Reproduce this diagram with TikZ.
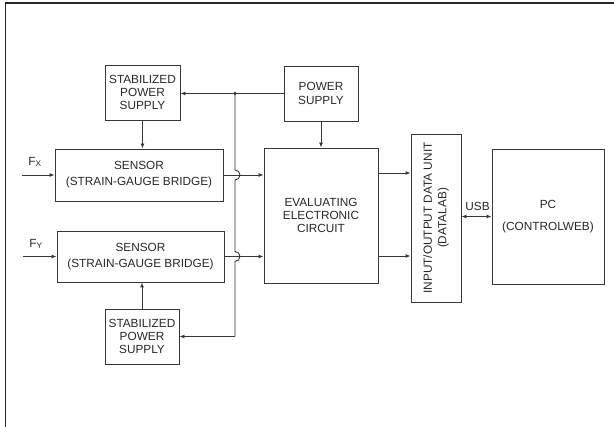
\documentclass[tikz,border=0pt]{standalone}
\usepackage{fontspec}
\setmainfont{Liberation Sans}
\usetikzlibrary{arrows.meta,calc}
\definecolor{ln}{RGB}{55,55,55}
\definecolor{tx}{RGB}{40,40,40}
\tikzset{
  box/.style={draw=ln, line width=0.9pt, rectangle, align=center, inner sep=0pt,
    text=tx, font=\fontsize{11.8}{13.4}\selectfont},
  arr/.style={draw=ln, line width=0.9pt, -{Latex[length=5pt,width=4pt]}},
  wire/.style={draw=ln, line width=0.9pt},
  lbl/.style={text=tx, inner sep=0pt, font=\fontsize{11.8}{13.4}\selectfont}
}
\begin{document}
\begin{tikzpicture}[x=1pt,y=-1pt]
\useasboundingbox (0,0) rectangle (614,427);
% frame
\draw[line width=1.8pt, black!85] (5.5,427) -- (5.5,2.8) -- (614,2.8);

% nodes
\node[box, minimum width=75pt, minimum height=55pt] (sps1) at (142.5,92.5) {STABILIZED\\POWER\\SUPPLY};
\node[box, minimum width=168pt, minimum height=52pt] (sx) at (139,175) {SENSOR\\[2.6pt](STRAIN-GAUGE BRIDGE)};
\node[box, minimum width=167pt, minimum height=51pt] (sy) at (140.5,256.5) {SENSOR\\[2.6pt](STRAIN-GAUGE BRIDGE)};
\node[box, minimum width=74pt, minimum height=55pt] (sps2) at (142,336.5) {STABILIZED\\POWER\\SUPPLY};
\node[box, minimum width=74pt, minimum height=55pt] (ps) at (321,93.5) {POWER\\SUPPLY};
\node[box, minimum width=114pt, minimum height=135pt] (ev) at (321,215.5) {EVALUATING\\ELECTRONIC\\CIRCUIT};
\node[box, minimum width=168pt, minimum height=50pt, rotate=90] (io) at (436,218) {INPUT/OUTPUT DATA UNIT\\[1pt](DATALAB)};
\node[box, minimum width=112pt, minimum height=135pt] (pc) at (548,216.5) {PC\\[8.5pt](CONTROLWEB)};

% labels
\node[lbl] (fx) at (35,162) {F\textsubscript{X}};
\node[lbl] (fy) at (36,244) {F\textsubscript{Y}};
\node[lbl] (usb) at (477.5,206) {USB};

% coordinates
\coordinate (fxs) at (22,175);
\coordinate (fys) at (23,256.5);
\coordinate (j1) at (235,93.5);
\coordinate (j2) at (235,336.5);
\coordinate (o1) at (378,173);
\coordinate (o2) at (378,256);

% input arrows
\draw[arr] (fxs) -- (sx.west);
\draw[arr] (fys) -- (sy.west);

% supply lines
\draw[arr] (ps.west) -- (sps1.east |- ps.west);
\fill[ln] (j1) circle (1.8pt);
\draw[wire] (j1) -- (235,170) arc[start angle=90, end angle=-90, radius=5pt]
  -- (235,251.5) arc[start angle=90, end angle=-90, radius=5pt] -- (j2);
\draw[arr] (j2) -- (sps2.east |- j2);
\draw[arr] (sps1.south) -- (sps1.south |- sx.north);
\draw[arr] (sps2.north) -- (sps2.north |- sy.south);
\draw[arr] (ps.south) -- (ev.north);

% sensor outputs
\draw[arr] (sx.east) -- (ev.west |- sx.east);
\draw[arr] (sy.east) -- (ev.west |- sy.east);

% evaluating outputs
\draw[arr] (o1) -- (io.north |- o1);
\draw[arr] (o2) -- (io.north |- o2);

% USB
\draw[draw=ln, line width=0.9pt, {Latex[length=5pt,width=4pt]}-{Latex[length=5pt,width=4pt]}] (io.south |- pc.west) -- (pc.west);
\end{tikzpicture}
\end{document}
